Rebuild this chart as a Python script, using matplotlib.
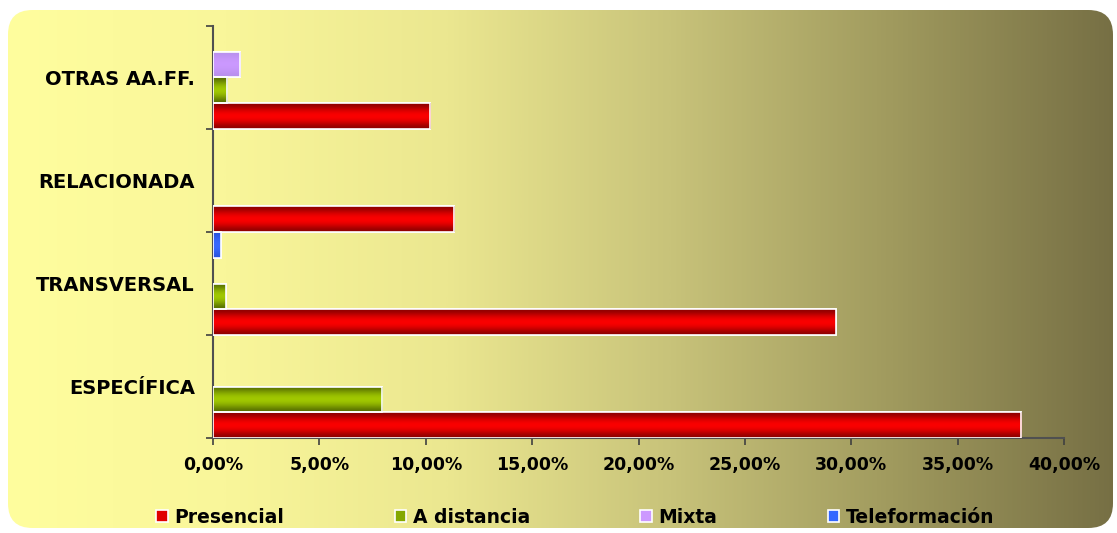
import matplotlib.pyplot as plt
import numpy as np
from matplotlib.colors import LinearSegmentedColormap
from matplotlib.patches import FancyBboxPatch
from matplotlib.ticker import FuncFormatter

categories = ["ESPECÍFICA", "TRANSVERSAL", "RELACIONADA", "OTRAS AA.FF."]
series_names = ["Presencial", "A distancia", "Mixta", "Teleformación"]
presencial = [38.0, 29.27, 11.34, 10.21]
a_distancia = [7.95, 0.6, 0.0, 0.66]
mixta = [0.0, 0.0, 0.0, 1.27]
teleformacion = [0.0, 0.36, 0.0, 0.0]
x_ticks = [0, 5, 10, 15, 20, 25, 30, 35, 40]

series = [presencial, a_distancia, mixta, teleformacion]
# (dark edge colour, bright centre colour) for the shaded bars
bar_shades = [("#8e0000", "#ff0000"),
              ("#587000", "#a4cc00"),
              ("#b890ec", "#cc99ff"),
              ("#2a55e0", "#3a6aff")]
legend_colors = ["#e00000", "#84a800", "#cc99ff", "#3366ff"]

fig = plt.figure(figsize=(11.17, 5.33), dpi=100)

# rounded gradient background
bg = fig.add_axes([0, 0, 1, 1])
bg.set_xlim(0, 1)
bg.set_ylim(0, 1)
bg.axis("off")
bg_cmap = LinearSegmentedColormap.from_list(
    "bg", [(0.0, "#fffe9e"), (0.2, "#f9f69a"), (0.4, "#ebe790"),
           (0.6, "#c8c37a"), (0.8, "#a09a5e"), (1.0, "#766f44")])
grad = np.linspace(0, 1, 512).reshape(1, -1)
im = bg.imshow(grad, cmap=bg_cmap, aspect="auto", extent=[0, 1, 0, 1])
box = FancyBboxPatch((8 / 1117, 5 / 533), 1105 / 1117, 518 / 533,
                     boxstyle="round,pad=0,rounding_size=0.022",
                     mutation_aspect=1117 / 533,
                     transform=bg.transAxes, facecolor="none", edgecolor="none")
bg.add_patch(box)
im.set_clip_path(box)

ax = fig.add_axes([213 / 1117, (533 - 438) / 533, 851 / 1117, 412 / 533])
ax.patch.set_alpha(0)

y = np.arange(len(categories))
h = 0.25
offsets = [-0.375, -0.125, 0.125, 0.375]
shade = np.array([0.0, 0.45, 0.85, 1.0, 0.85, 0.45, 0.0]).reshape(-1, 1)

for vals, off, (dark, bright) in zip(series, offsets, bar_shades):
    cm = LinearSegmentedColormap.from_list("b", [dark, bright])
    for yi, v in zip(y, vals):
        if v <= 0:
            continue
        bar = ax.barh(yi + off, v, height=h, color=bright,
                      edgecolor="white", linewidth=1.2, zorder=3)[0]
        img = ax.imshow(shade, cmap=cm, aspect="auto", zorder=3.5,
                        extent=[bar.get_x(), bar.get_x() + bar.get_width(),
                                bar.get_y(), bar.get_y() + bar.get_height()],
                        interpolation="bicubic")
        img.set_clip_path(bar)
        ax.add_patch(plt.Rectangle((bar.get_x(), bar.get_y()), bar.get_width(),
                                   bar.get_height(), fill=False,
                                   edgecolor="white", linewidth=1.2, zorder=4))

ax.set_xlim(0, 40)
ax.set_ylim(-0.5, len(categories) - 0.5)
ax.set_xticks(x_ticks)
ax.xaxis.set_major_formatter(FuncFormatter(lambda v, p: f"{v:.2f}%".replace(".", ",")))
ax.set_yticks(y)
ax.set_yticklabels(categories)
ax.set_yticks(np.arange(-0.5, len(categories), 1), minor=True)
ax.tick_params(axis="y", which="major", length=0, pad=13)
ax.tick_params(axis="y", which="minor", length=5, width=1.2, color="#404040")
ax.tick_params(axis="x", length=5, width=1.2, color="#404040", pad=8)
for lab in ax.get_yticklabels():
    lab.set_fontsize(14)
    lab.set_fontweight("bold")
for lab in ax.get_xticklabels():
    lab.set_fontsize(12.5)
    lab.set_fontweight("bold")
for s in ["top", "right"]:
    ax.spines[s].set_visible(False)
for s in ["left", "bottom"]:
    ax.spines[s].set_color("#505050")
    ax.spines[s].set_linewidth(1.5)

handles = [plt.Rectangle((0, 0), 1, 1, facecolor=c, edgecolor="white", linewidth=1.2)
           for c in legend_colors]
fig.legend(handles, series_names, loc="center", bbox_to_anchor=(0.515, 0.03),
           ncol=4, frameon=False, prop={"weight": "bold", "size": 13.5},
           handlelength=0.6, handleheight=0.6, handletextpad=0.35,
           columnspacing=5.9)

fig.savefig("out.png", dpi=100)
